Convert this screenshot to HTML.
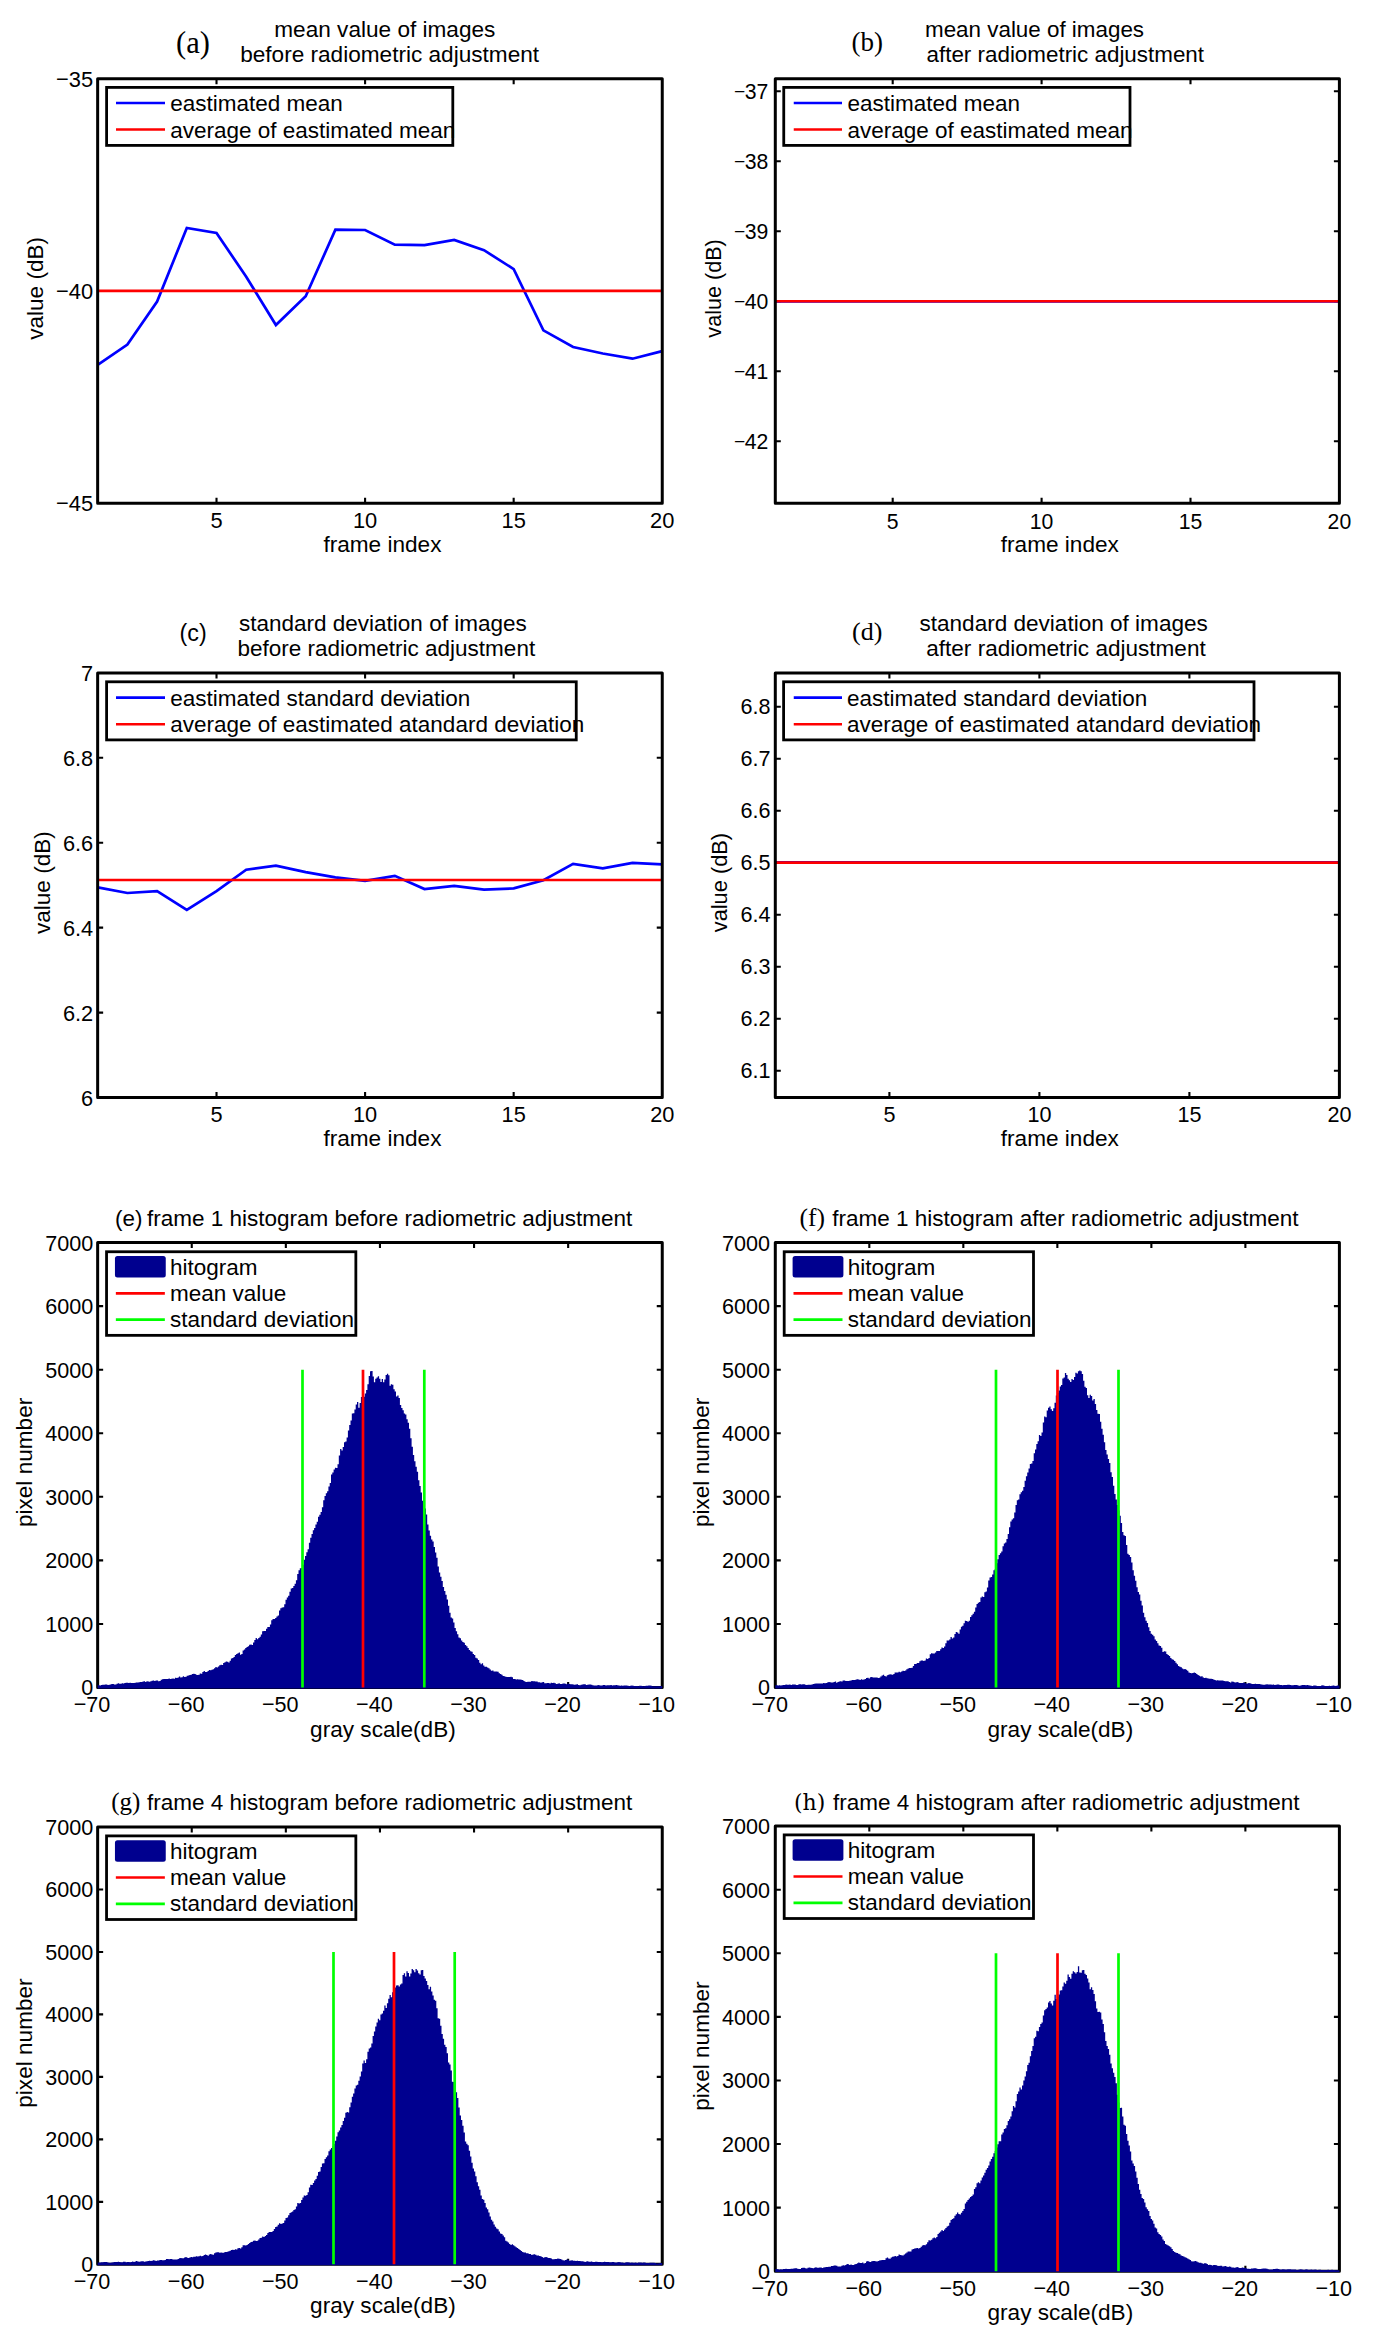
<!DOCTYPE html>
<html lang="en"><head><meta charset="utf-8"><title>Radiometric adjustment figure</title>
<style>
html,body{margin:0;padding:0;background:#fff}
svg{display:block}
svg text{font-family:"Liberation Sans", Arial, Helvetica, sans-serif;fill:#000}
</style></head>
<body>
<svg width="1380" height="2346" viewBox="0 0 1380 2346">
<rect width="1380" height="2346" fill="#fff"/>
<path d="M216.51 503.30v-5.5M216.51 78.65v5.5M365.09 503.30v-5.5M365.09 78.65v5.5M513.67 503.30v-5.5M513.67 78.65v5.5M97.65 290.98h5.5M662.25 290.98h-5.5" stroke="#000" stroke-width="2.1" fill="none"/>
<polyline points="97.7,364.8 127.4,344.6 157.1,301.5 186.8,228.0 216.5,233.0 246.2,276.7 275.9,325.0 305.7,296.3 335.4,229.6 365.1,230.0 394.8,244.6 424.5,245.2 454.2,240.0 484.0,250.2 513.7,269.1 543.4,330.4 573.1,347.0 602.8,353.5 632.5,358.7 662.2,351.1" fill="none" stroke="#00f" stroke-width="2.7" stroke-linejoin="miter"/>
<line x1="97.65" x2="662.25" y1="290.95" y2="290.95" stroke="#f00" stroke-width="2.7"/>
<rect x="97.65" y="78.65" width="564.60" height="424.65" fill="none" stroke="#000" stroke-width="3.0" stroke-linejoin="round"/>
<text x="216.51" y="528.00" text-anchor="middle" font-size="22.8" textLength="12.17" lengthAdjust="spacingAndGlyphs">5</text>
<text x="365.09" y="528.00" text-anchor="middle" font-size="22.8" textLength="24.35" lengthAdjust="spacingAndGlyphs">10</text>
<text x="513.67" y="528.00" text-anchor="middle" font-size="22.8" textLength="24.35" lengthAdjust="spacingAndGlyphs">15</text>
<text x="662.25" y="528.00" text-anchor="middle" font-size="22.8" textLength="24.35" lengthAdjust="spacingAndGlyphs">20</text>
<text x="93.15" y="86.68" text-anchor="end" font-size="22.8" textLength="37.13" lengthAdjust="spacingAndGlyphs">−35</text>
<text x="93.15" y="299.00" text-anchor="end" font-size="22.8" textLength="37.13" lengthAdjust="spacingAndGlyphs">−40</text>
<text x="93.15" y="511.33" text-anchor="end" font-size="22.8" textLength="37.13" lengthAdjust="spacingAndGlyphs">−45</text>
<text x="382.45" y="552.00" text-anchor="middle" font-size="22.6">frame index</text>
<text transform="translate(43.20 288.38) rotate(-90)" text-anchor="middle" font-size="22.6">value (dB)</text>
<text x="274.30" y="37.00" font-size="22.6">mean value of images</text>
<text x="240.20" y="62.00" font-size="22.6">before radiometric adjustment</text>
<text x="176.00" y="53.00" font-size="30.5" style='font-family:"Liberation Serif", "Times New Roman", serif'>(a)</text>
<rect x="106.60" y="87.40" width="346.20" height="58.00" fill="#fff" stroke="#000" stroke-width="2.8"/>
<line x1="116.00" x2="165.00" y1="103.00" y2="103.00" stroke="#00f" stroke-width="2.7"/>
<text x="170.20" y="110.70" font-size="22.5">eastimated mean</text>
<line x1="116.00" x2="165.00" y1="129.50" y2="129.50" stroke="#f00" stroke-width="2.7"/>
<text x="170.20" y="137.50" font-size="22.5">average of eastimated mean</text>
<path d="M892.70 503.30v-5.5M892.70 78.80v5.5M1041.60 503.30v-5.5M1041.60 78.80v5.5M1190.50 503.30v-5.5M1190.50 78.80v5.5M775.30 91.20h5.5M1339.40 91.20h-5.5M775.30 161.20h5.5M1339.40 161.20h-5.5M775.30 231.20h5.5M1339.40 231.20h-5.5M775.30 301.20h5.5M1339.40 301.20h-5.5M775.30 371.20h5.5M1339.40 371.20h-5.5M775.30 441.20h5.5M1339.40 441.20h-5.5" stroke="#000" stroke-width="2.1" fill="none"/>
<line x1="775.3" x2="1339.4" y1="301.55" y2="301.55" stroke="#00f" stroke-width="2.6"/>
<line x1="775.3" x2="1339.4" y1="301.2" y2="301.2" stroke="#f00" stroke-width="2.6"/>
<rect x="775.30" y="78.80" width="564.10" height="424.50" fill="none" stroke="#000" stroke-width="3.0" stroke-linejoin="round"/>
<text x="892.70" y="528.50" text-anchor="middle" font-size="21.2">5</text>
<text x="1041.60" y="528.50" text-anchor="middle" font-size="21.2">10</text>
<text x="1190.50" y="528.50" text-anchor="middle" font-size="21.2">15</text>
<text x="1339.40" y="528.50" text-anchor="middle" font-size="21.2">20</text>
<text x="768.40" y="98.66" text-anchor="end" font-size="21.2"><tspan font-size="19.3" dy="-0.6">−</tspan><tspan dx="-0.4" dy="0.6">37</tspan></text>
<text x="768.40" y="168.66" text-anchor="end" font-size="21.2"><tspan font-size="19.3" dy="-0.6">−</tspan><tspan dx="-0.4" dy="0.6">38</tspan></text>
<text x="768.40" y="238.66" text-anchor="end" font-size="21.2"><tspan font-size="19.3" dy="-0.6">−</tspan><tspan dx="-0.4" dy="0.6">39</tspan></text>
<text x="768.40" y="308.66" text-anchor="end" font-size="21.2"><tspan font-size="19.3" dy="-0.6">−</tspan><tspan dx="-0.4" dy="0.6">40</tspan></text>
<text x="768.40" y="378.66" text-anchor="end" font-size="21.2"><tspan font-size="19.3" dy="-0.6">−</tspan><tspan dx="-0.4" dy="0.6">41</tspan></text>
<text x="768.40" y="448.66" text-anchor="end" font-size="21.2"><tspan font-size="19.3" dy="-0.6">−</tspan><tspan dx="-0.4" dy="0.6">42</tspan></text>
<text x="1059.85" y="552.00" text-anchor="middle" font-size="22.6">frame index</text>
<text transform="translate(721.30 288.45) rotate(-90)" text-anchor="middle" font-size="21.6">value (dB)</text>
<text x="925.00" y="37.00" font-size="22.4">mean value of images</text>
<text x="926.50" y="62.00" font-size="22.4">after radiometric adjustment</text>
<text x="851.50" y="50.50" font-size="27" style='font-family:"Liberation Serif", "Times New Roman", serif'>(b)</text>
<rect x="783.75" y="87.40" width="346.25" height="58.00" fill="#fff" stroke="#000" stroke-width="2.8"/>
<line x1="793.75" x2="842.00" y1="103.00" y2="103.00" stroke="#00f" stroke-width="2.7"/>
<text x="847.40" y="110.70" font-size="22.5">eastimated mean</text>
<line x1="793.75" x2="842.00" y1="129.50" y2="129.50" stroke="#f00" stroke-width="2.7"/>
<text x="847.40" y="137.50" font-size="22.5">average of eastimated mean</text>
<path d="M216.51 1097.50v-5.5M216.51 672.90v5.5M365.09 1097.50v-5.5M365.09 672.90v5.5M513.67 1097.50v-5.5M513.67 672.90v5.5M97.65 757.82h5.5M662.25 757.82h-5.5M97.65 842.74h5.5M662.25 842.74h-5.5M97.65 927.66h5.5M662.25 927.66h-5.5M97.65 1012.58h5.5M662.25 1012.58h-5.5" stroke="#000" stroke-width="2.1" fill="none"/>
<polyline points="97.7,887.4 127.4,893.0 157.1,891.1 186.8,910.0 216.5,891.1 246.2,869.7 275.9,865.6 305.7,872.1 335.4,877.4 365.1,880.8 394.8,875.8 424.5,889.1 454.2,885.8 484.0,889.7 513.7,888.4 543.4,880.2 573.1,863.9 602.8,868.4 632.5,862.8 662.2,864.3" fill="none" stroke="#00f" stroke-width="2.7" stroke-linejoin="miter"/>
<line x1="97.65" x2="662.25" y1="880.0" y2="880.0" stroke="#f00" stroke-width="2.7"/>
<rect x="97.65" y="672.90" width="564.60" height="424.60" fill="none" stroke="#000" stroke-width="3.0" stroke-linejoin="round"/>
<text x="216.51" y="1122.00" text-anchor="middle" font-size="22.8" textLength="12.11" lengthAdjust="spacingAndGlyphs">5</text>
<text x="365.09" y="1122.00" text-anchor="middle" font-size="22.8" textLength="24.22" lengthAdjust="spacingAndGlyphs">10</text>
<text x="513.67" y="1122.00" text-anchor="middle" font-size="22.8" textLength="24.22" lengthAdjust="spacingAndGlyphs">15</text>
<text x="662.25" y="1122.00" text-anchor="middle" font-size="22.8" textLength="24.22" lengthAdjust="spacingAndGlyphs">20</text>
<text x="93.15" y="680.93" text-anchor="end" font-size="22.8" textLength="12.11" lengthAdjust="spacingAndGlyphs">7</text>
<text x="93.15" y="765.85" text-anchor="end" font-size="22.8" textLength="30.27" lengthAdjust="spacingAndGlyphs">6.8</text>
<text x="93.15" y="850.77" text-anchor="end" font-size="22.8" textLength="30.27" lengthAdjust="spacingAndGlyphs">6.6</text>
<text x="93.15" y="935.69" text-anchor="end" font-size="22.8" textLength="30.27" lengthAdjust="spacingAndGlyphs">6.4</text>
<text x="93.15" y="1020.61" text-anchor="end" font-size="22.8" textLength="30.27" lengthAdjust="spacingAndGlyphs">6.2</text>
<text x="93.15" y="1105.53" text-anchor="end" font-size="22.8" textLength="12.11" lengthAdjust="spacingAndGlyphs">6</text>
<text x="382.45" y="1145.50" text-anchor="middle" font-size="22.6">frame index</text>
<text transform="translate(49.90 882.60) rotate(-90)" text-anchor="middle" font-size="22.6">value (dB)</text>
<text x="239.00" y="631.25" font-size="22.5">standard deviation of images</text>
<text x="237.50" y="656.25" font-size="22.5">before radiometric adjustment</text>
<text x="179.50" y="640.50" font-size="23.3" style='font-family:"Liberation Sans", Arial, Helvetica, sans-serif'>(c)</text>
<rect x="106.60" y="681.80" width="469.65" height="58.10" fill="#fff" stroke="#000" stroke-width="2.8"/>
<line x1="116.00" x2="165.00" y1="697.60" y2="697.60" stroke="#00f" stroke-width="2.7"/>
<text x="170.20" y="705.50" font-size="22.5">eastimated standard deviation</text>
<line x1="116.00" x2="165.00" y1="724.25" y2="724.25" stroke="#f00" stroke-width="2.7"/>
<text x="170.20" y="732.00" font-size="22.5">average of eastimated atandard deviation</text>
<path d="M889.40 1097.50v-5.5M889.40 672.90v5.5M1039.40 1097.50v-5.5M1039.40 672.90v5.5M1189.40 1097.50v-5.5M1189.40 672.90v5.5M775.30 706.70h5.5M1339.40 706.70h-5.5M775.30 758.70h5.5M1339.40 758.70h-5.5M775.30 810.70h5.5M1339.40 810.70h-5.5M775.30 862.70h5.5M1339.40 862.70h-5.5M775.30 914.70h5.5M1339.40 914.70h-5.5M775.30 966.70h5.5M1339.40 966.70h-5.5M775.30 1018.70h5.5M1339.40 1018.70h-5.5M775.30 1070.70h5.5M1339.40 1070.70h-5.5" stroke="#000" stroke-width="2.1" fill="none"/>
<line x1="775.3" x2="1339.4" y1="862.3" y2="862.3" stroke="#00f" stroke-width="2.7"/>
<line x1="775.3" x2="1339.4" y1="862.65" y2="862.65" stroke="#f00" stroke-width="2.7"/>
<rect x="775.30" y="672.90" width="564.10" height="424.60" fill="none" stroke="#000" stroke-width="3.0" stroke-linejoin="round"/>
<text x="889.40" y="1122.40" text-anchor="middle" font-size="21.6">5</text>
<text x="1039.40" y="1122.40" text-anchor="middle" font-size="21.6">10</text>
<text x="1189.40" y="1122.40" text-anchor="middle" font-size="21.6">15</text>
<text x="1339.40" y="1122.40" text-anchor="middle" font-size="21.6">20</text>
<text x="770.60" y="714.30" text-anchor="end" font-size="21.6">6.8</text>
<text x="770.60" y="766.30" text-anchor="end" font-size="21.6">6.7</text>
<text x="770.60" y="818.30" text-anchor="end" font-size="21.6">6.6</text>
<text x="770.60" y="870.30" text-anchor="end" font-size="21.6">6.5</text>
<text x="770.60" y="922.30" text-anchor="end" font-size="21.6">6.4</text>
<text x="770.60" y="974.30" text-anchor="end" font-size="21.6">6.3</text>
<text x="770.60" y="1026.30" text-anchor="end" font-size="21.6">6.2</text>
<text x="770.60" y="1078.30" text-anchor="end" font-size="21.6">6.1</text>
<text x="1059.85" y="1145.50" text-anchor="middle" font-size="22.6">frame index</text>
<text transform="translate(727.30 882.60) rotate(-90)" text-anchor="middle" font-size="21.8">value (dB)</text>
<text x="919.50" y="631.25" font-size="22.55">standard deviation of images</text>
<text x="926.25" y="656.25" font-size="22.55">after radiometric adjustment</text>
<text x="852.00" y="640.00" font-size="26" style='font-family:"Liberation Serif", "Times New Roman", serif'>(d)</text>
<rect x="783.60" y="681.80" width="470.40" height="58.10" fill="#fff" stroke="#000" stroke-width="2.8"/>
<line x1="793.75" x2="842.00" y1="697.60" y2="697.60" stroke="#00f" stroke-width="2.7"/>
<text x="847.00" y="705.50" font-size="22.5">eastimated standard deviation</text>
<line x1="793.75" x2="842.00" y1="724.25" y2="724.25" stroke="#f00" stroke-width="2.7"/>
<text x="847.00" y="732.00" font-size="22.5">average of eastimated atandard deviation</text>
<path d="M191.75 1687.50v-5.5M191.75 1242.55v5.5M285.85 1687.50v-5.5M285.85 1242.55v5.5M379.95 1687.50v-5.5M379.95 1242.55v5.5M474.05 1687.50v-5.5M474.05 1242.55v5.5M568.15 1687.50v-5.5M568.15 1242.55v5.5M97.65 1306.11h5.5M662.25 1306.11h-5.5M97.65 1369.68h5.5M662.25 1369.68h-5.5M97.65 1433.24h5.5M662.25 1433.24h-5.5M97.65 1496.81h5.5M662.25 1496.81h-5.5M97.65 1560.37h5.5M662.25 1560.37h-5.5M97.65 1623.94h5.5M662.25 1623.94h-5.5" stroke="#000" stroke-width="2.1" fill="none"/>
<rect x="97.65" y="1242.55" width="564.60" height="444.95" fill="none" stroke="#000" stroke-width="3.0" stroke-linejoin="round"/>
<path d="M97.7 1688.4L97.7 1684.8H98.3L98.3 1685.2H99.6L99.6 1685.4H100.9L100.9 1685.0H102.2L102.2 1684.8H103.5L103.5 1684.8H104.8L104.8 1684.5H106.1L106.1 1684.5H107.4L107.4 1684.9H108.7L108.7 1684.8H110.0L110.0 1684.5H111.3L111.3 1684.1H112.6L112.6 1684.1H113.9L113.9 1684.6H115.2L115.2 1684.5H116.5L116.5 1683.7H117.8L117.8 1683.3H119.1L119.1 1683.7H120.4L120.4 1683.8H121.7L121.7 1683.3H123.0L123.0 1683.4H124.3L124.3 1683.0H125.6L125.6 1682.7H126.9L126.9 1682.7H128.2L128.2 1682.9H129.5L129.5 1682.7H130.8L130.8 1683.0H132.1L132.1 1682.9H133.4L133.4 1682.9H134.7L134.7 1682.7H136.0L136.0 1682.6H137.3L137.3 1682.5H138.6L138.6 1682.3H139.9L139.9 1682.1H141.2L141.2 1681.9H142.5L142.5 1681.5H143.8L143.8 1681.3H145.1L145.1 1681.9H146.4L146.4 1681.2H147.7L147.7 1681.5H149.0L149.0 1681.8H150.3L150.3 1681.3H151.6L151.6 1680.8H152.9L152.9 1680.5H154.2L154.2 1681.0H155.5L155.5 1680.6H156.8L156.8 1680.6H158.1L158.1 1681.2H159.4L159.4 1680.9H160.7L160.7 1679.8H162.0L162.0 1679.3H163.3L163.3 1679.0H164.6L164.6 1679.0H165.9L165.9 1679.1H167.2L167.2 1678.9H168.5L168.5 1678.5H169.8L169.8 1679.1H171.1L171.1 1678.8H172.4L172.4 1678.6H173.7L173.7 1678.8H175.0L175.0 1677.8H176.3L176.3 1678.1H177.6L177.6 1677.5H178.9L178.9 1676.6H180.2L180.2 1677.5H181.5L181.5 1677.2H182.8L182.8 1676.3H184.1L184.1 1677.0H185.4L185.4 1676.7H186.7L186.7 1675.8H188.0L188.0 1675.4H189.3L189.3 1675.1H190.6L190.6 1674.8H191.9L191.9 1674.1H193.2L193.2 1673.8H194.5L194.5 1674.1H195.8L195.8 1674.7H197.1L197.1 1674.9H198.4L198.4 1674.8H199.7L199.7 1673.6H201.0L201.0 1673.7H202.3L202.3 1671.9H203.6L203.6 1670.9H204.9L204.9 1672.1H206.2L206.2 1672.0H207.5L207.5 1671.0H208.8L208.8 1670.0H210.1L210.1 1670.2H211.4L211.4 1669.7H212.7L212.7 1669.2H214.0L214.0 1668.2H215.3L215.3 1666.9H216.6L216.6 1667.4H217.9L217.9 1666.5H219.2L219.2 1665.3H220.5L220.5 1664.7H221.8L221.8 1665.0H223.1L223.1 1663.1H224.4L224.4 1662.2H225.7L225.7 1661.5H227.0L227.0 1661.8H228.3L228.3 1662.5H229.6L229.6 1660.8H230.9L230.9 1658.6H232.2L232.2 1658.0H233.5L233.5 1656.9H234.8L234.8 1654.9H236.1L236.1 1653.9H237.4L237.4 1653.3H238.7L238.7 1652.4H240.0L240.0 1654.8H241.3L241.3 1653.9H242.6L242.6 1650.6H243.9L243.9 1649.5H245.2L245.2 1647.9H246.5L246.5 1646.9H247.8L247.8 1646.3H249.1L249.1 1644.7H250.4L250.4 1644.6H251.7L251.7 1645.0H253.0L253.0 1642.5H254.3L254.3 1640.1H255.6L255.6 1638.1H256.9L256.9 1639.3H258.2L258.2 1638.0H259.5L259.5 1636.7H260.8L260.8 1634.5H262.1L262.1 1631.3H263.4L263.4 1631.1H264.7L264.7 1631.0H266.0L266.0 1628.8H267.3L267.3 1626.9H268.6L268.6 1627.1H269.9L269.9 1624.4H271.2L271.2 1620.3H272.5L272.5 1619.0H273.8L273.8 1619.0H275.1L275.1 1618.0H276.4L276.4 1616.5H277.7L277.7 1615.4H279.0L279.0 1610.6H280.3L280.3 1608.3H281.6L281.6 1607.5H282.9L282.9 1607.3H284.2L284.2 1604.3H285.5L285.5 1599.8H286.8L286.8 1597.5H288.1L288.1 1595.8H289.4L289.4 1591.7H290.7L290.7 1588.5H292.0L292.0 1588.1H293.3L293.3 1586.0H294.6L294.6 1583.7H295.9L295.9 1580.3H297.2L297.2 1573.9H298.5L298.5 1570.2H299.8L299.8 1568.3H301.1L301.1 1568.0H302.4L302.4 1564.8H303.7L303.7 1559.7H305.0L305.0 1556.1H306.3L306.3 1552.3H307.6L307.6 1549.3H308.9L308.9 1542.7H310.2L310.2 1537.7H311.5L311.5 1534.0H312.8L312.8 1530.2H314.1L314.1 1528.1H315.4L315.4 1524.4H316.7L316.7 1521.8H318.0L318.0 1516.8H319.3L319.3 1514.8H320.6L320.6 1512.0H321.9L321.9 1507.2H323.2L323.2 1500.2H324.5L324.5 1495.9H325.8L325.8 1493.2H327.1L327.1 1491.3H328.4L328.4 1486.4H329.7L329.7 1483.1H331.0L331.0 1474.6H332.3L332.3 1472.4H333.6L333.6 1469.5H334.9L334.9 1467.7H336.2L336.2 1468.1H337.5L337.5 1464.2H338.8L338.8 1455.6H340.1L340.1 1448.9H341.4L341.4 1450.4H342.7L342.7 1447.0H344.0L344.0 1442.2H345.3L345.3 1441.6H346.6L346.6 1437.6H347.9L347.9 1430.6H349.2L349.2 1425.0H350.5L350.5 1420.4H351.8L351.8 1413.6H353.1L353.1 1413.3H354.4L354.4 1409.5H355.7L355.7 1404.5H357.0L357.0 1402.0H358.3L358.3 1407.7H359.6L359.6 1403.1H360.9L360.9 1396.9H362.2L362.2 1399.2H363.5L363.5 1396.8H364.8L364.8 1393.6H366.1L366.1 1390.1H367.4L367.4 1384.3H368.7L368.7 1376.0H370.0L370.0 1371.2H371.3L371.3 1371.0H372.6L372.6 1376.4H373.9L373.9 1382.2H375.2L375.2 1378.8H376.5L376.5 1377.4H377.8L377.8 1376.3H379.1L379.1 1378.8H380.4L380.4 1382.0H381.7L381.7 1378.9H383.0L383.0 1382.3H384.3L384.3 1379.4H385.6L385.6 1375.0H386.9L386.9 1373.7H388.2L388.2 1375.3H389.5L389.5 1385.7H390.8L390.8 1384.3H392.1L392.1 1384.8H393.4L393.4 1389.3H394.7L394.7 1391.5H396.0L396.0 1396.5H397.3L397.3 1395.4H398.6L398.6 1398.1H399.9L399.9 1405.1H401.2L401.2 1408.1H402.5L402.5 1410.2H403.8L403.8 1413.4H405.1L405.1 1414.4H406.4L406.4 1419.3H407.7L407.7 1422.8H409.0L409.0 1428.8H410.3L410.3 1438.2H411.6L411.6 1446.7H412.9L412.9 1454.9H414.2L414.2 1461.2H415.5L415.5 1466.7H416.8L416.8 1471.7H418.1L418.1 1480.2H419.4L419.4 1485.9H420.7L420.7 1492.5H422.0L422.0 1500.7H423.3L423.3 1505.8H424.6L424.6 1508.5H425.9L425.9 1514.4H427.2L427.2 1524.5H428.5L428.5 1530.5H429.8L429.8 1535.7H431.1L431.1 1539.6H432.4L432.4 1541.6H433.7L433.7 1547.1H435.0L435.0 1552.4H436.3L436.3 1557.8H437.6L437.6 1566.4H438.9L438.9 1572.6H440.2L440.2 1576.8H441.5L441.5 1580.9H442.8L442.8 1587.1H444.1L444.1 1591.1H445.4L445.4 1594.8H446.7L446.7 1599.4H448.0L448.0 1605.7H449.3L449.3 1612.8H450.6L450.6 1617.5H451.9L451.9 1618.4H453.2L453.2 1622.6H454.5L454.5 1628.1H455.8L455.8 1631.2H457.1L457.1 1634.3H458.4L458.4 1637.5H459.7L459.7 1638.2H461.0L461.0 1640.6H462.3L462.3 1642.0H463.6L463.6 1642.7H464.9L464.9 1644.9H466.2L466.2 1646.2H467.5L467.5 1648.0H468.8L468.8 1650.1H470.1L470.1 1651.2H471.4L471.4 1651.7H472.7L472.7 1653.9H474.0L474.0 1655.0H475.3L475.3 1657.8H476.6L476.6 1658.5H477.9L477.9 1660.0H479.2L479.2 1662.7H480.5L480.5 1664.3H481.8L481.8 1663.3H483.1L483.1 1665.4H484.4L484.4 1666.7H485.7L485.7 1666.7H487.0L487.0 1667.4H488.3L488.3 1668.2H489.6L489.6 1669.6H490.9L490.9 1670.8H492.2L492.2 1670.4H493.5L493.5 1671.5H494.8L494.8 1671.6H496.1L496.1 1671.5H497.4L497.4 1671.8H498.7L498.7 1673.2H500.0L500.0 1674.0H501.3L501.3 1674.8H502.6L502.6 1676.1H503.9L503.9 1676.3H505.2L505.2 1676.7H506.5L506.5 1677.1H507.8L507.8 1676.9H509.1L509.1 1677.0H510.4L510.4 1676.7H511.7L511.7 1677.2H513.0L513.0 1679.1H514.3L514.3 1679.1H515.6L515.6 1679.5H516.9L516.9 1679.2H518.2L518.2 1679.4H519.5L519.5 1679.4H520.8L520.8 1679.8H522.1L522.1 1680.0H523.4L523.4 1681.0H524.7L524.7 1681.7H526.0L526.0 1681.9H527.3L527.3 1681.7H528.6L528.6 1681.7H529.9L529.9 1681.7H531.2L531.2 1681.0H532.5L532.5 1681.3H533.8L533.8 1681.3H535.1L535.1 1681.6H536.4L536.4 1681.5H537.7L537.7 1682.3H539.0L539.0 1682.3H540.3L540.3 1682.7H541.6L541.6 1682.2H542.9L542.9 1682.1H544.2L544.2 1683.2H545.5L545.5 1683.2H546.8L546.8 1682.9H548.1L548.1 1683.1H549.4L549.4 1683.4H550.7L550.7 1682.8H552.0L552.0 1682.9H553.3L553.3 1682.8H554.6L554.6 1683.2H555.9L555.9 1683.9H557.2L557.2 1683.7H558.5L558.5 1683.3H559.8L559.8 1684.1H561.1L561.1 1684.0H562.4L562.4 1683.6H563.7L563.7 1683.4H565.0L565.0 1683.7H566.3L566.3 1684.2H567.6L567.6 1683.6H568.9L568.9 1684.0H570.2L570.2 1684.2H571.5L571.5 1684.3H572.8L572.8 1684.5H574.1L574.1 1684.7H575.4L575.4 1684.5H576.7L576.7 1684.3H578.0L578.0 1685.1H579.3L579.3 1685.2H580.6L580.6 1684.7H581.9L581.9 1684.5H583.2L583.2 1684.3H584.5L584.5 1684.3H585.8L585.8 1684.9H587.1L587.1 1684.8H588.4L588.4 1684.6H589.7L589.7 1684.5H591.0L591.0 1684.7H592.3L592.3 1685.3H593.6L593.6 1685.5H594.9L594.9 1685.4H596.2L596.2 1685.5H597.5L597.5 1685.0H598.8L598.8 1685.2H600.1L600.1 1685.4H601.4L601.4 1685.4H602.7L602.7 1684.9H604.0L604.0 1685.1H605.3L605.3 1685.4H606.6L606.6 1685.2H607.9L607.9 1685.3H609.2L609.2 1685.2H610.5L610.5 1685.1H611.8L611.8 1685.4H613.1L613.1 1685.3H614.4L614.4 1685.2H615.7L615.7 1685.1H617.0L617.0 1685.3H618.3L618.3 1685.5H619.6L619.6 1685.7H620.9L620.9 1685.6H622.2L622.2 1685.7H623.5L623.5 1685.5H624.8L624.8 1685.5H626.1L626.1 1685.5H627.4L627.4 1685.8H628.7L628.7 1685.9H630.0L630.0 1685.8H631.3L631.3 1685.5H632.6L632.6 1685.7H633.9L633.9 1685.9H635.2L635.2 1686.1H636.5L636.5 1686.1H637.8L637.8 1686.2H639.1L639.1 1685.7H640.4L640.4 1685.7H641.7L641.7 1685.9H643.0L643.0 1686.2H644.3L644.3 1686.1H645.6L645.6 1685.7H646.9L646.9 1685.8H648.2L648.2 1685.6H649.5L649.5 1685.4H650.8L650.8 1685.7H652.1L652.1 1686.3H653.4L653.4 1686.3H654.7L654.7 1686.2H656.0L656.0 1686.3H657.3L657.3 1686.3H658.6L658.6 1686.3H659.9L659.9 1686.2H661.2L661.2 1686.0H662.2L662.2 1688.4Z" fill="#00008f"/>
<line x1="302.5" x2="302.5" y1="1369.68" y2="1687.50" stroke="#0f0" stroke-width="2.7"/>
<line x1="424.3" x2="424.3" y1="1369.68" y2="1687.50" stroke="#0f0" stroke-width="2.7"/>
<line x1="363" x2="363" y1="1369.68" y2="1687.50" stroke="#f00" stroke-width="2.7"/>
<text x="92.05" y="1712.30" text-anchor="middle" font-size="22.6" textLength="36.61" lengthAdjust="spacingAndGlyphs">−70</text>
<text x="186.15" y="1712.30" text-anchor="middle" font-size="22.6" textLength="36.61" lengthAdjust="spacingAndGlyphs">−60</text>
<text x="280.25" y="1712.30" text-anchor="middle" font-size="22.6" textLength="36.61" lengthAdjust="spacingAndGlyphs">−50</text>
<text x="374.35" y="1712.30" text-anchor="middle" font-size="22.6" textLength="36.61" lengthAdjust="spacingAndGlyphs">−40</text>
<text x="468.45" y="1712.30" text-anchor="middle" font-size="22.6" textLength="36.61" lengthAdjust="spacingAndGlyphs">−30</text>
<text x="562.55" y="1712.30" text-anchor="middle" font-size="22.6" textLength="36.61" lengthAdjust="spacingAndGlyphs">−20</text>
<text x="656.65" y="1712.30" text-anchor="middle" font-size="22.6" textLength="36.61" lengthAdjust="spacingAndGlyphs">−10</text>
<text x="93.15" y="1695.46" text-anchor="end" font-size="22.6" textLength="12.00" lengthAdjust="spacingAndGlyphs">0</text>
<text x="93.15" y="1631.89" text-anchor="end" font-size="22.6" textLength="48.02" lengthAdjust="spacingAndGlyphs">1000</text>
<text x="93.15" y="1568.33" text-anchor="end" font-size="22.6" textLength="48.02" lengthAdjust="spacingAndGlyphs">2000</text>
<text x="93.15" y="1504.76" text-anchor="end" font-size="22.6" textLength="48.02" lengthAdjust="spacingAndGlyphs">3000</text>
<text x="93.15" y="1441.20" text-anchor="end" font-size="22.6" textLength="48.02" lengthAdjust="spacingAndGlyphs">4000</text>
<text x="93.15" y="1377.63" text-anchor="end" font-size="22.6" textLength="48.02" lengthAdjust="spacingAndGlyphs">5000</text>
<text x="93.15" y="1314.07" text-anchor="end" font-size="22.6" textLength="48.02" lengthAdjust="spacingAndGlyphs">6000</text>
<text x="93.15" y="1250.51" text-anchor="end" font-size="22.6" textLength="48.02" lengthAdjust="spacingAndGlyphs">7000</text>
<text x="382.95" y="1736.50" text-anchor="middle" font-size="22.6">gray scale(dB)</text>
<text transform="translate(32.00 1462.43) rotate(-90)" text-anchor="middle" font-size="22.6">pixel number</text>
<text x="147.00" y="1225.50" font-size="22.5">frame 1 histogram before radiometric adjustment</text>
<text x="115.00" y="1225.50" font-size="22.4" style='font-family:"Liberation Sans", Arial, Helvetica, sans-serif'>(e)</text>
<rect x="106.55" y="1251.75" width="249.30" height="83.60" fill="#fff" stroke="#000" stroke-width="2.8"/>
<rect x="114.95" y="1256.05" width="50.80" height="21.50" rx="2.5" fill="#00008f"/>
<text x="170.05" y="1274.65" font-size="22.5">hitogram</text>
<line x1="115.85" x2="164.85" y1="1293.35" y2="1293.35" stroke="#f00" stroke-width="2.7"/>
<text x="170.05" y="1300.85" font-size="22.5">mean value</text>
<line x1="115.85" x2="164.85" y1="1319.65" y2="1319.65" stroke="#0f0" stroke-width="2.7"/>
<text x="170.05" y="1326.75" font-size="22.5">standard deviation</text>
<path d="M191.75 2264.30v-5.5M191.75 1827.00v5.5M285.85 2264.30v-5.5M285.85 1827.00v5.5M379.95 2264.30v-5.5M379.95 1827.00v5.5M474.05 2264.30v-5.5M474.05 1827.00v5.5M568.15 2264.30v-5.5M568.15 1827.00v5.5M97.65 1889.47h5.5M662.25 1889.47h-5.5M97.65 1951.94h5.5M662.25 1951.94h-5.5M97.65 2014.41h5.5M662.25 2014.41h-5.5M97.65 2076.89h5.5M662.25 2076.89h-5.5M97.65 2139.36h5.5M662.25 2139.36h-5.5M97.65 2201.83h5.5M662.25 2201.83h-5.5" stroke="#000" stroke-width="2.1" fill="none"/>
<rect x="97.65" y="1827.00" width="564.60" height="437.30" fill="none" stroke="#000" stroke-width="3.0" stroke-linejoin="round"/>
<path d="M97.7 2265.2L97.7 2262.5H98.3L98.3 2262.5H99.6L99.6 2262.4H100.9L100.9 2262.2H102.2L102.2 2262.2H103.5L103.5 2262.1H104.8L104.8 2262.1H106.1L106.1 2262.1H107.4L107.4 2262.6H108.7L108.7 2262.8H110.0L110.0 2262.7H111.3L111.3 2262.4H112.6L112.6 2262.3H113.9L113.9 2262.1H115.2L115.2 2262.1H116.5L116.5 2262.0H117.8L117.8 2261.8H119.1L119.1 2261.9H120.4L120.4 2262.2H121.7L121.7 2262.3H123.0L123.0 2261.8H124.3L124.3 2261.8H125.6L125.6 2262.2H126.9L126.9 2262.0H128.2L128.2 2262.0H129.5L129.5 2262.3H130.8L130.8 2261.9H132.1L132.1 2261.5H133.4L133.4 2262.0H134.7L134.7 2261.5H136.0L136.0 2261.1H137.3L137.3 2261.6H138.6L138.6 2261.7H139.9L139.9 2261.4H141.2L141.2 2261.2H142.5L142.5 2261.3H143.8L143.8 2261.7H145.1L145.1 2261.5H146.4L146.4 2261.2H147.7L147.7 2261.0H149.0L149.0 2260.7H150.3L150.3 2260.9H151.6L151.6 2260.8H152.9L152.9 2260.2H154.2L154.2 2260.6H155.5L155.5 2260.9H156.8L156.8 2260.6H158.1L158.1 2260.4H159.4L159.4 2260.0H160.7L160.7 2260.0H162.0L162.0 2260.2H163.3L163.3 2260.2H164.6L164.6 2259.9H165.9L165.9 2259.1H167.2L167.2 2259.0H168.5L168.5 2259.2H169.8L169.8 2259.1H171.1L171.1 2259.1H172.4L172.4 2259.4H173.7L173.7 2259.4H175.0L175.0 2259.4H176.3L176.3 2259.6H177.6L177.6 2259.1H178.9L178.9 2258.3H180.2L180.2 2257.9H181.5L181.5 2258.2H182.8L182.8 2258.2H184.1L184.1 2257.4H185.4L185.4 2257.0H186.7L186.7 2257.8H188.0L188.0 2258.0H189.3L189.3 2257.5H190.6L190.6 2257.1H191.9L191.9 2257.2H193.2L193.2 2256.8H194.5L194.5 2256.8H195.8L195.8 2256.3H197.1L197.1 2256.4H198.4L198.4 2256.2H199.7L199.7 2255.7H201.0L201.0 2256.3H202.3L202.3 2255.9H203.6L203.6 2254.9H204.9L204.9 2254.5H206.2L206.2 2255.0H207.5L207.5 2255.7H208.8L208.8 2254.4H210.1L210.1 2254.0H211.4L211.4 2254.5H212.7L212.7 2254.8H214.0L214.0 2253.2H215.3L215.3 2252.4H216.6L216.6 2252.3H217.9L217.9 2252.2H219.2L219.2 2252.7H220.5L220.5 2252.5H221.8L221.8 2252.7H223.1L223.1 2252.7H224.4L224.4 2252.1H225.7L225.7 2252.0H227.0L227.0 2251.7H228.3L228.3 2251.3H229.6L229.6 2250.7H230.9L230.9 2250.1H232.2L232.2 2249.8H233.5L233.5 2249.9H234.8L234.8 2249.2H236.1L236.1 2249.5H237.4L237.4 2248.3H238.7L238.7 2248.0H240.0L240.0 2248.6H241.3L241.3 2247.2H242.6L242.6 2245.3H243.9L243.9 2245.2H245.2L245.2 2245.5H246.5L246.5 2245.1H247.8L247.8 2243.9H249.1L249.1 2243.1H250.4L250.4 2242.1H251.7L251.7 2241.7H253.0L253.0 2240.7H254.3L254.3 2240.6H255.6L255.6 2241.1H256.9L256.9 2240.8H258.2L258.2 2239.4H259.5L259.5 2238.1H260.8L260.8 2237.7H262.1L262.1 2236.4H263.4L263.4 2236.9H264.7L264.7 2235.9H266.0L266.0 2234.9H267.3L267.3 2233.1H268.6L268.6 2232.1H269.9L269.9 2231.9H271.2L271.2 2232.0H272.5L272.5 2231.0H273.8L273.8 2229.1H275.1L275.1 2226.9H276.4L276.4 2226.6H277.7L277.7 2224.7H279.0L279.0 2223.3H280.3L280.3 2223.9H281.6L281.6 2223.6H282.9L282.9 2223.1H284.2L284.2 2220.5H285.5L285.5 2217.9H286.8L286.8 2217.6H288.1L288.1 2215.2H289.4L289.4 2212.9H290.7L290.7 2212.2H292.0L292.0 2211.6H293.3L293.3 2210.0H294.6L294.6 2209.3H295.9L295.9 2206.6H297.2L297.2 2202.9H298.5L298.5 2203.4H299.8L299.8 2202.9H301.1L301.1 2200.0H302.4L302.4 2197.4H303.7L303.7 2195.6H305.0L305.0 2195.7H306.3L306.3 2194.9H307.6L307.6 2192.2H308.9L308.9 2187.4H310.2L310.2 2184.8H311.5L311.5 2185.1H312.8L312.8 2183.1H314.1L314.1 2180.4H315.4L315.4 2179.1H316.7L316.7 2175.7H318.0L318.0 2171.9H319.3L319.3 2171.4H320.6L320.6 2167.0H321.9L321.9 2163.5H323.2L323.2 2163.3H324.5L324.5 2158.9H325.8L325.8 2157.3H327.1L327.1 2155.6H328.4L328.4 2151.2H329.7L329.7 2149.4H331.0L331.0 2148.0H332.3L332.3 2146.3H333.6L333.6 2144.1H334.9L334.9 2140.8H336.2L336.2 2136.6H337.5L337.5 2132.2H338.8L338.8 2130.4H340.1L340.1 2127.5H341.4L341.4 2125.1H342.7L342.7 2121.1H344.0L344.0 2117.7H345.3L345.3 2112.8H346.6L346.6 2112.1H347.9L347.9 2112.5H349.2L349.2 2107.3H350.5L350.5 2102.5H351.8L351.8 2096.7H353.1L353.1 2093.5H354.4L354.4 2088.6H355.7L355.7 2085.5H357.0L357.0 2084.7H358.3L358.3 2080.8H359.6L359.6 2076.6H360.9L360.9 2071.6H362.2L362.2 2063.6H363.5L363.5 2060.5H364.8L364.8 2063.0H366.1L366.1 2059.3H367.4L367.4 2051.7H368.7L368.7 2048.5H370.0L370.0 2047.6H371.3L371.3 2043.6H372.6L372.6 2036.1H373.9L373.9 2031.4H375.2L375.2 2026.4H376.5L376.5 2022.4H377.8L377.8 2018.7H379.1L379.1 2020.2H380.4L380.4 2014.4H381.7L381.7 2013.4H383.0L383.0 2010.7H384.3L384.3 2005.6H385.6L385.6 2007.9H386.9L386.9 2003.3H388.2L388.2 1998.8H389.5L389.5 1994.9H390.8L390.8 1997.2H392.1L392.1 1992.2H393.4L393.4 1988.5H394.7L394.7 1987.5H396.0L396.0 1985.6H397.3L397.3 1985.3H398.6L398.6 1986.5H399.9L399.9 1984.5H401.2L401.2 1983.4H402.5L402.5 1975.0H403.8L403.8 1973.3H405.1L405.1 1976.5H406.4L406.4 1971.2H407.7L407.7 1973.0H409.0L409.0 1976.5H410.3L410.3 1973.4H411.6L411.6 1968.9H412.9L412.9 1970.3H414.2L414.2 1972.2H415.5L415.5 1968.9H416.8L416.8 1970.4H418.1L418.1 1973.2H419.4L419.4 1974.4H420.7L420.7 1970.2H422.0L422.0 1969.9H423.3L423.3 1975.9H424.6L424.6 1978.4H425.9L425.9 1981.1H427.2L427.2 1985.1H428.5L428.5 1989.3H429.8L429.8 1986.8H431.1L431.1 1991.4H432.4L432.4 1995.6H433.7L433.7 1999.8H435.0L435.0 2000.7H436.3L436.3 2008.3H437.6L437.6 2018.3H438.9L438.9 2018.8H440.2L440.2 2025.7H441.5L441.5 2034.1H442.8L442.8 2038.8H444.1L444.1 2044.7H445.4L445.4 2047.1H446.7L446.7 2053.3H448.0L448.0 2062.4H449.3L449.3 2064.5H450.6L450.6 2070.6H451.9L451.9 2081.7H453.2L453.2 2081.9H454.5L454.5 2086.5H455.8L455.8 2092.2H457.1L457.1 2098.0H458.4L458.4 2107.5H459.7L459.7 2115.6H461.0L461.0 2119.9H462.3L462.3 2125.8H463.6L463.6 2132.5H464.9L464.9 2141.6H466.2L466.2 2143.7H467.5L467.5 2145.3H468.8L468.8 2150.8H470.1L470.1 2156.5H471.4L471.4 2162.7H472.7L472.7 2168.4H474.0L474.0 2171.6H475.3L475.3 2176.2H476.6L476.6 2182.3H477.9L477.9 2186.3H479.2L479.2 2189.7H480.5L480.5 2195.4H481.8L481.8 2198.9H483.1L483.1 2199.8H484.4L484.4 2203.0H485.7L485.7 2207.4H487.0L487.0 2209.3H488.3L488.3 2212.5H489.6L489.6 2216.4H490.9L490.9 2219.7H492.2L492.2 2221.5H493.5L493.5 2224.5H494.8L494.8 2226.8H496.1L496.1 2228.6H497.4L497.4 2229.2H498.7L498.7 2231.6H500.0L500.0 2233.5H501.3L501.3 2234.0H502.6L502.6 2235.5H503.9L503.9 2237.2H505.2L505.2 2240.8H506.5L506.5 2241.5H507.8L507.8 2242.4H509.1L509.1 2244.1H510.4L510.4 2245.0H511.7L511.7 2244.3H513.0L513.0 2245.2H514.3L514.3 2246.3H515.6L515.6 2247.3H516.9L516.9 2248.0H518.2L518.2 2248.9H519.5L519.5 2249.9H520.8L520.8 2251.0H522.1L522.1 2252.0H523.4L523.4 2252.4H524.7L524.7 2252.6H526.0L526.0 2253.2H527.3L527.3 2253.3H528.6L528.6 2253.9H529.9L529.9 2254.0H531.2L531.2 2254.9H532.5L532.5 2254.6H533.8L533.8 2254.2H535.1L535.1 2254.8H536.4L536.4 2255.6H537.7L537.7 2255.4H539.0L539.0 2256.0H540.3L540.3 2256.3H541.6L541.6 2257.0H542.9L542.9 2257.7H544.2L544.2 2257.2H545.5L545.5 2257.1H546.8L546.8 2257.4H548.1L548.1 2258.1H549.4L549.4 2258.0H550.7L550.7 2258.6H552.0L552.0 2259.2H553.3L553.3 2259.2H554.6L554.6 2258.9H555.9L555.9 2258.9H557.2L557.2 2258.5H558.5L558.5 2258.7H559.8L559.8 2258.9H561.1L561.1 2259.6H562.4L562.4 2260.3H563.7L563.7 2260.6H565.0L565.0 2260.1H566.3L566.3 2259.5H567.6L567.6 2259.8H568.9L568.9 2260.7H570.2L570.2 2260.4H571.5L571.5 2260.3H572.8L572.8 2260.8H574.1L574.1 2260.8H575.4L575.4 2260.9H576.7L576.7 2260.8H578.0L578.0 2260.9H579.3L579.3 2261.1H580.6L580.6 2261.2H581.9L581.9 2261.3H583.2L583.2 2261.5H584.5L584.5 2261.9H585.8L585.8 2261.4H587.1L587.1 2261.2H588.4L588.4 2261.8H589.7L589.7 2261.7H591.0L591.0 2261.5H592.3L592.3 2261.9H593.6L593.6 2262.0H594.9L594.9 2261.8H596.2L596.2 2261.7H597.5L597.5 2262.1H598.8L598.8 2261.9H600.1L600.1 2261.9H601.4L601.4 2262.3H602.7L602.7 2262.0H604.0L604.0 2261.7H605.3L605.3 2262.0H606.6L606.6 2262.1H607.9L607.9 2261.9H609.2L609.2 2262.2H610.5L610.5 2262.2H611.8L611.8 2261.9H613.1L613.1 2261.9H614.4L614.4 2262.5H615.7L615.7 2262.4H617.0L617.0 2262.2H618.3L618.3 2262.0H619.6L619.6 2262.3H620.9L620.9 2262.5H622.2L622.2 2262.5H623.5L623.5 2263.0H624.8L624.8 2262.6H626.1L626.1 2262.3H627.4L627.4 2262.2H628.7L628.7 2262.5H630.0L630.0 2262.8H631.3L631.3 2262.6H632.6L632.6 2262.8H633.9L633.9 2262.7H635.2L635.2 2262.6H636.5L636.5 2262.9H637.8L637.8 2262.4H639.1L639.1 2262.4H640.4L640.4 2262.5H641.7L641.7 2262.7H643.0L643.0 2262.6H644.3L644.3 2262.6H645.6L645.6 2262.9H646.9L646.9 2263.1H648.2L648.2 2262.9H649.5L649.5 2262.7H650.8L650.8 2262.7H652.1L652.1 2262.8H653.4L653.4 2262.8H654.7L654.7 2263.0H656.0L656.0 2263.4H657.3L657.3 2263.4H658.6L658.6 2263.2H659.9L659.9 2263.1H661.2L661.2 2263.0H662.2L662.2 2265.2Z" fill="#00008f"/>
<line x1="333.5" x2="333.5" y1="1951.94" y2="2264.30" stroke="#0f0" stroke-width="2.7"/>
<line x1="454.7" x2="454.7" y1="1951.94" y2="2264.30" stroke="#0f0" stroke-width="2.7"/>
<line x1="394" x2="394" y1="1951.94" y2="2264.30" stroke="#f00" stroke-width="2.7"/>
<text x="92.05" y="2289.10" text-anchor="middle" font-size="22.6" textLength="36.61" lengthAdjust="spacingAndGlyphs">−70</text>
<text x="186.15" y="2289.10" text-anchor="middle" font-size="22.6" textLength="36.61" lengthAdjust="spacingAndGlyphs">−60</text>
<text x="280.25" y="2289.10" text-anchor="middle" font-size="22.6" textLength="36.61" lengthAdjust="spacingAndGlyphs">−50</text>
<text x="374.35" y="2289.10" text-anchor="middle" font-size="22.6" textLength="36.61" lengthAdjust="spacingAndGlyphs">−40</text>
<text x="468.45" y="2289.10" text-anchor="middle" font-size="22.6" textLength="36.61" lengthAdjust="spacingAndGlyphs">−30</text>
<text x="562.55" y="2289.10" text-anchor="middle" font-size="22.6" textLength="36.61" lengthAdjust="spacingAndGlyphs">−20</text>
<text x="656.65" y="2289.10" text-anchor="middle" font-size="22.6" textLength="36.61" lengthAdjust="spacingAndGlyphs">−10</text>
<text x="93.15" y="2272.26" text-anchor="end" font-size="22.6" textLength="12.00" lengthAdjust="spacingAndGlyphs">0</text>
<text x="93.15" y="2209.78" text-anchor="end" font-size="22.6" textLength="48.02" lengthAdjust="spacingAndGlyphs">1000</text>
<text x="93.15" y="2147.31" text-anchor="end" font-size="22.6" textLength="48.02" lengthAdjust="spacingAndGlyphs">2000</text>
<text x="93.15" y="2084.84" text-anchor="end" font-size="22.6" textLength="48.02" lengthAdjust="spacingAndGlyphs">3000</text>
<text x="93.15" y="2022.37" text-anchor="end" font-size="22.6" textLength="48.02" lengthAdjust="spacingAndGlyphs">4000</text>
<text x="93.15" y="1959.90" text-anchor="end" font-size="22.6" textLength="48.02" lengthAdjust="spacingAndGlyphs">5000</text>
<text x="93.15" y="1897.43" text-anchor="end" font-size="22.6" textLength="48.02" lengthAdjust="spacingAndGlyphs">6000</text>
<text x="93.15" y="1834.96" text-anchor="end" font-size="22.6" textLength="48.02" lengthAdjust="spacingAndGlyphs">7000</text>
<text x="382.95" y="2313.30" text-anchor="middle" font-size="22.6">gray scale(dB)</text>
<text transform="translate(32.00 2043.05) rotate(-90)" text-anchor="middle" font-size="22.6">pixel number</text>
<text x="147.00" y="1810.00" font-size="22.5">frame 4 histogram before radiometric adjustment</text>
<text x="111.25" y="1810.00" font-size="25" style='font-family:"Liberation Serif", "Times New Roman", serif'>(g)</text>
<rect x="106.55" y="1835.90" width="249.30" height="83.60" fill="#fff" stroke="#000" stroke-width="2.8"/>
<rect x="114.95" y="1840.20" width="50.80" height="21.50" rx="2.5" fill="#00008f"/>
<text x="170.05" y="1858.80" font-size="22.5">hitogram</text>
<line x1="115.85" x2="164.85" y1="1877.50" y2="1877.50" stroke="#f00" stroke-width="2.7"/>
<text x="170.05" y="1885.00" font-size="22.5">mean value</text>
<line x1="115.85" x2="164.85" y1="1903.80" y2="1903.80" stroke="#0f0" stroke-width="2.7"/>
<text x="170.05" y="1910.90" font-size="22.5">standard deviation</text>
<path d="M869.32 1687.50v-5.5M869.32 1242.55v5.5M963.33 1687.50v-5.5M963.33 1242.55v5.5M1057.35 1687.50v-5.5M1057.35 1242.55v5.5M1151.37 1687.50v-5.5M1151.37 1242.55v5.5M1245.38 1687.50v-5.5M1245.38 1242.55v5.5M775.30 1306.11h5.5M1339.40 1306.11h-5.5M775.30 1369.68h5.5M1339.40 1369.68h-5.5M775.30 1433.24h5.5M1339.40 1433.24h-5.5M775.30 1496.81h5.5M1339.40 1496.81h-5.5M775.30 1560.37h5.5M1339.40 1560.37h-5.5M775.30 1623.94h5.5M1339.40 1623.94h-5.5" stroke="#000" stroke-width="2.1" fill="none"/>
<rect x="775.30" y="1242.55" width="564.10" height="444.95" fill="none" stroke="#000" stroke-width="3.0" stroke-linejoin="round"/>
<path d="M775.3 1688.4L775.3 1685.3H776.3L776.3 1685.3H777.6L777.6 1685.5H778.9L778.9 1685.2H780.2L780.2 1685.4H781.5L781.5 1685.2H782.8L782.8 1685.1H784.1L784.1 1685.0H785.4L785.4 1684.5H786.7L786.7 1684.8H788.0L788.0 1684.7H789.3L789.3 1684.6H790.6L790.6 1685.0H791.9L791.9 1684.6H793.2L793.2 1684.6H794.5L794.5 1684.6H795.8L795.8 1685.0H797.1L797.1 1684.9H798.4L798.4 1684.3H799.7L799.7 1684.3H801.0L801.0 1684.4H802.3L802.3 1684.2H803.6L803.6 1684.3H804.9L804.9 1684.8H806.2L806.2 1684.9H807.5L807.5 1684.8H808.8L808.8 1684.7H810.1L810.1 1684.7H811.4L811.4 1684.4H812.7L812.7 1684.1H814.0L814.0 1683.8H815.3L815.3 1683.6H816.6L816.6 1683.6H817.9L817.9 1683.5H819.2L819.2 1683.4H820.5L820.5 1683.6H821.8L821.8 1683.5H823.1L823.1 1683.1H824.4L824.4 1683.2H825.7L825.7 1683.1H827.0L827.0 1682.6H828.3L828.3 1682.0H829.6L829.6 1682.2H830.9L830.9 1682.5H832.2L832.2 1682.5H833.5L833.5 1681.9H834.8L834.8 1681.5H836.1L836.1 1682.7H837.4L837.4 1681.9H838.7L838.7 1681.4H840.0L840.0 1681.3H841.3L841.3 1681.5H842.6L842.6 1680.6H843.9L843.9 1680.4H845.2L845.2 1680.9H846.5L846.5 1680.9H847.8L847.8 1681.1H849.1L849.1 1680.7H850.4L850.4 1680.4H851.7L851.7 1679.9H853.0L853.0 1679.9H854.3L854.3 1679.9H855.6L855.6 1679.5H856.9L856.9 1679.3H858.2L858.2 1679.6H859.5L859.5 1680.0H860.8L860.8 1679.2H862.1L862.1 1679.7H863.4L863.4 1679.6H864.7L864.7 1678.9H866.0L866.0 1678.1H867.3L867.3 1677.8H868.6L868.6 1678.6H869.9L869.9 1677.2H871.2L871.2 1676.9H872.5L872.5 1677.6H873.8L873.8 1677.6H875.1L875.1 1677.6H876.4L876.4 1677.6H877.7L877.7 1677.9H879.0L879.0 1677.7H880.3L880.3 1676.6H881.6L881.6 1675.5H882.9L882.9 1674.8H884.2L884.2 1676.1H885.5L885.5 1676.5H886.8L886.8 1675.3H888.1L888.1 1674.8H889.4L889.4 1674.3H890.7L890.7 1674.5H892.0L892.0 1674.7H893.3L893.3 1673.9H894.6L894.6 1672.5H895.9L895.9 1672.5H897.2L897.2 1672.6H898.5L898.5 1671.7H899.8L899.8 1672.3H901.1L901.1 1671.6H902.4L902.4 1670.7H903.7L903.7 1671.1H905.0L905.0 1670.6H906.3L906.3 1669.2H907.6L907.6 1668.5H908.9L908.9 1668.1H910.2L910.2 1668.0H911.5L911.5 1667.8H912.8L912.8 1666.1H914.1L914.1 1664.0H915.4L915.4 1664.0H916.7L916.7 1663.1H918.0L918.0 1663.0H919.3L919.3 1661.2H920.6L920.6 1660.4H921.9L921.9 1660.5H923.2L923.2 1661.1H924.5L924.5 1660.6H925.8L925.8 1658.4H927.1L927.1 1659.0H928.4L928.4 1657.9H929.7L929.7 1654.3H931.0L931.0 1653.2H932.3L932.3 1653.5H933.6L933.6 1653.4H934.9L934.9 1652.6H936.2L936.2 1651.0H937.5L937.5 1650.9H938.8L938.8 1651.0H940.1L940.1 1649.2H941.4L941.4 1647.4H942.7L942.7 1647.9H944.0L944.0 1646.4H945.3L945.3 1643.2H946.6L946.6 1640.6H947.9L947.9 1640.5H949.2L949.2 1639.4H950.5L950.5 1637.1H951.8L951.8 1638.6H953.1L953.1 1637.5H954.4L954.4 1634.0H955.7L955.7 1632.0H957.0L957.0 1632.5H958.3L958.3 1633.7H959.6L959.6 1629.4H960.9L960.9 1626.7H962.2L962.2 1625.7H963.5L963.5 1623.2H964.8L964.8 1620.8H966.1L966.1 1621.1H967.4L967.4 1621.7H968.7L968.7 1620.8H970.0L970.0 1617.0H971.3L971.3 1615.2H972.6L972.6 1613.7H973.9L973.9 1611.8H975.2L975.2 1607.5H976.5L976.5 1604.1H977.8L977.8 1602.8H979.1L979.1 1602.1H980.4L980.4 1597.5H981.7L981.7 1596.4H983.0L983.0 1597.0H984.3L984.3 1592.2H985.6L985.6 1591.5H986.9L986.9 1587.5H988.2L988.2 1580.4H989.5L989.5 1577.5H990.8L990.8 1577.1H992.1L992.1 1574.4H993.4L993.4 1570.3H994.7L994.7 1569.1H996.0L996.0 1563.3H997.3L997.3 1559.3H998.6L998.6 1554.9H999.9L999.9 1553.2H1001.2L1001.2 1551.4H1002.5L1002.5 1546.2H1003.8L1003.8 1543.6H1005.1L1005.1 1542.4H1006.4L1006.4 1538.9H1007.7L1007.7 1533.9H1009.0L1009.0 1527.2H1010.3L1010.3 1521.5H1011.6L1011.6 1519.6H1012.9L1012.9 1518.3H1014.2L1014.2 1512.5H1015.5L1015.5 1505.0H1016.8L1016.8 1500.3H1018.1L1018.1 1499.5H1019.4L1019.4 1494.3H1020.7L1020.7 1492.2H1022.0L1022.0 1490.8H1023.3L1023.3 1486.9H1024.6L1024.6 1480.8H1025.9L1025.9 1476.3H1027.2L1027.2 1472.5H1028.5L1028.5 1468.6H1029.8L1029.8 1463.9H1031.1L1031.1 1463.6H1032.4L1032.4 1461.0H1033.7L1033.7 1453.3H1035.0L1035.0 1449.5H1036.3L1036.3 1444.1H1037.6L1037.6 1441.3H1038.9L1038.9 1435.0H1040.2L1040.2 1436.0H1041.5L1041.5 1432.5H1042.8L1042.8 1422.4H1044.1L1044.1 1416.6H1045.4L1045.4 1417.3H1046.7L1046.7 1410.4H1048.0L1048.0 1407.7H1049.3L1049.3 1406.4H1050.6L1050.6 1409.3H1051.9L1051.9 1411.0H1053.2L1053.2 1408.3H1054.5L1054.5 1402.7H1055.8L1055.8 1395.6H1057.1L1057.1 1393.1H1058.4L1058.4 1390.4H1059.7L1059.7 1386.5H1061.0L1061.0 1385.1H1062.3L1062.3 1378.5H1063.6L1063.6 1377.6H1064.9L1064.9 1373.0H1066.2L1066.2 1375.0H1067.5L1067.5 1378.8H1068.8L1068.8 1380.3H1070.1L1070.1 1381.9H1071.4L1071.4 1378.9H1072.7L1072.7 1380.0H1074.0L1074.0 1377.1H1075.3L1075.3 1372.7H1076.6L1076.6 1373.4H1077.9L1077.9 1371.2H1079.2L1079.2 1370.4H1080.5L1080.5 1371.3H1081.8L1081.8 1374.0H1083.1L1083.1 1380.7H1084.4L1084.4 1386.7H1085.7L1085.7 1388.0H1087.0L1087.0 1395.3H1088.3L1088.3 1397.9H1089.6L1089.6 1394.8H1090.9L1090.9 1395.9H1092.2L1092.2 1400.5H1093.5L1093.5 1398.9H1094.8L1094.8 1404.0H1096.1L1096.1 1410.1H1097.4L1097.4 1413.7H1098.7L1098.7 1414.0H1100.0L1100.0 1421.7H1101.3L1101.3 1428.7H1102.6L1102.6 1434.7H1103.9L1103.9 1442.3H1105.2L1105.2 1450.0H1106.5L1106.5 1454.6H1107.8L1107.8 1458.9H1109.1L1109.1 1463.1H1110.4L1110.4 1472.3H1111.7L1111.7 1476.9H1113.0L1113.0 1485.7H1114.3L1114.3 1494.0H1115.6L1115.6 1499.4H1116.9L1116.9 1505.0H1118.2L1118.2 1510.6H1119.5L1119.5 1515.7H1120.8L1120.8 1523.1H1122.1L1122.1 1532.1H1123.4L1123.4 1535.2H1124.7L1124.7 1536.1H1126.0L1126.0 1545.0H1127.3L1127.3 1553.8H1128.6L1128.6 1554.9H1129.9L1129.9 1557.0H1131.2L1131.2 1562.5H1132.5L1132.5 1570.2H1133.8L1133.8 1575.8H1135.1L1135.1 1580.7H1136.4L1136.4 1587.2H1137.7L1137.7 1592.1H1139.0L1139.0 1594.6H1140.3L1140.3 1600.7H1141.6L1141.6 1605.4H1142.9L1142.9 1612.7H1144.2L1144.2 1617.3H1145.5L1145.5 1620.8H1146.8L1146.8 1623.0H1148.1L1148.1 1627.3H1149.4L1149.4 1631.1H1150.7L1150.7 1633.8H1152.0L1152.0 1634.8H1153.3L1153.3 1636.2H1154.6L1154.6 1639.5H1155.9L1155.9 1640.9H1157.2L1157.2 1643.2H1158.5L1158.5 1645.6H1159.8L1159.8 1646.1H1161.1L1161.1 1647.7H1162.4L1162.4 1652.1H1163.7L1163.7 1651.2H1165.0L1165.0 1651.5H1166.3L1166.3 1654.0H1167.6L1167.6 1655.1H1168.9L1168.9 1656.1H1170.2L1170.2 1657.9H1171.5L1171.5 1659.3H1172.8L1172.8 1659.7H1174.1L1174.1 1661.0H1175.4L1175.4 1662.8H1176.7L1176.7 1664.2H1178.0L1178.0 1666.1H1179.3L1179.3 1666.8H1180.6L1180.6 1667.3H1181.9L1181.9 1668.4H1183.2L1183.2 1669.2H1184.5L1184.5 1668.9H1185.8L1185.8 1669.7H1187.1L1187.1 1670.7H1188.4L1188.4 1672.4H1189.7L1189.7 1672.9H1191.0L1191.0 1673.3H1192.3L1192.3 1673.1H1193.6L1193.6 1672.6H1194.9L1194.9 1673.1H1196.2L1196.2 1674.0H1197.5L1197.5 1675.0H1198.8L1198.8 1675.8H1200.1L1200.1 1676.4H1201.4L1201.4 1676.3H1202.7L1202.7 1677.4H1204.0L1204.0 1678.1H1205.3L1205.3 1677.8H1206.6L1206.6 1678.2H1207.9L1207.9 1678.5H1209.2L1209.2 1678.7H1210.5L1210.5 1678.7H1211.8L1211.8 1679.0H1213.1L1213.1 1679.4H1214.4L1214.4 1680.1H1215.7L1215.7 1680.4H1217.0L1217.0 1680.3H1218.3L1218.3 1680.5H1219.6L1219.6 1680.6H1220.9L1220.9 1680.5H1222.2L1222.2 1680.5H1223.5L1223.5 1681.1H1224.8L1224.8 1681.3H1226.1L1226.1 1681.3H1227.4L1227.4 1681.3H1228.7L1228.7 1682.1H1230.0L1230.0 1682.4H1231.3L1231.3 1681.6H1232.6L1232.6 1681.7H1233.9L1233.9 1682.2H1235.2L1235.2 1682.5H1236.5L1236.5 1682.0H1237.8L1237.8 1682.4H1239.1L1239.1 1682.9H1240.4L1240.4 1683.1H1241.7L1241.7 1683.0H1243.0L1243.0 1682.6H1244.3L1244.3 1683.1H1245.6L1245.6 1683.6H1246.9L1246.9 1683.5H1248.2L1248.2 1683.0H1249.5L1249.5 1683.2H1250.8L1250.8 1683.8H1252.1L1252.1 1684.1H1253.4L1253.4 1684.0H1254.7L1254.7 1683.8H1256.0L1256.0 1684.0H1257.3L1257.3 1684.1H1258.6L1258.6 1684.1H1259.9L1259.9 1684.3H1261.2L1261.2 1684.6H1262.5L1262.5 1684.8H1263.8L1263.8 1684.7H1265.1L1265.1 1684.6H1266.4L1266.4 1684.3H1267.7L1267.7 1684.4H1269.0L1269.0 1684.6H1270.3L1270.3 1684.4H1271.6L1271.6 1684.7H1272.9L1272.9 1684.5H1274.2L1274.2 1684.9H1275.5L1275.5 1684.8H1276.8L1276.8 1684.4H1278.1L1278.1 1684.5H1279.4L1279.4 1685.0H1280.7L1280.7 1685.0H1282.0L1282.0 1685.2H1283.3L1283.3 1685.1H1284.6L1284.6 1684.9H1285.9L1285.9 1685.0H1287.2L1287.2 1684.7H1288.5L1288.5 1684.8H1289.8L1289.8 1685.0H1291.1L1291.1 1685.3H1292.4L1292.4 1685.3H1293.7L1293.7 1685.1H1295.0L1295.0 1684.9H1296.3L1296.3 1685.1H1297.6L1297.6 1685.4H1298.9L1298.9 1685.7H1300.2L1300.2 1685.6H1301.5L1301.5 1685.0H1302.8L1302.8 1685.0H1304.1L1304.1 1685.0H1305.4L1305.4 1685.2H1306.7L1306.7 1685.0H1308.0L1308.0 1685.2H1309.3L1309.3 1685.4H1310.6L1310.6 1685.7H1311.9L1311.9 1685.9H1313.2L1313.2 1685.5H1314.5L1314.5 1685.5H1315.8L1315.8 1685.7H1317.1L1317.1 1686.1H1318.4L1318.4 1686.1H1319.7L1319.7 1686.0H1321.0L1321.0 1685.4H1322.3L1322.3 1685.2H1323.6L1323.6 1685.7H1324.9L1324.9 1685.9H1326.2L1326.2 1686.1H1327.5L1327.5 1686.0H1328.8L1328.8 1685.8H1330.1L1330.1 1685.9H1331.4L1331.4 1685.7H1332.7L1332.7 1685.4H1334.0L1334.0 1685.8H1335.3L1335.3 1685.9H1336.6L1336.6 1685.4H1337.9L1337.9 1685.5H1339.2L1339.2 1685.7H1339.4L1339.4 1688.4Z" fill="#00008f"/>
<line x1="996" x2="996" y1="1369.68" y2="1687.50" stroke="#0f0" stroke-width="2.7"/>
<line x1="1118.5" x2="1118.5" y1="1369.68" y2="1687.50" stroke="#0f0" stroke-width="2.7"/>
<line x1="1057.5" x2="1057.5" y1="1369.68" y2="1687.50" stroke="#f00" stroke-width="2.7"/>
<text x="769.70" y="1712.30" text-anchor="middle" font-size="22.6" textLength="36.61" lengthAdjust="spacingAndGlyphs">−70</text>
<text x="863.72" y="1712.30" text-anchor="middle" font-size="22.6" textLength="36.61" lengthAdjust="spacingAndGlyphs">−60</text>
<text x="957.73" y="1712.30" text-anchor="middle" font-size="22.6" textLength="36.61" lengthAdjust="spacingAndGlyphs">−50</text>
<text x="1051.75" y="1712.30" text-anchor="middle" font-size="22.6" textLength="36.61" lengthAdjust="spacingAndGlyphs">−40</text>
<text x="1145.77" y="1712.30" text-anchor="middle" font-size="22.6" textLength="36.61" lengthAdjust="spacingAndGlyphs">−30</text>
<text x="1239.78" y="1712.30" text-anchor="middle" font-size="22.6" textLength="36.61" lengthAdjust="spacingAndGlyphs">−20</text>
<text x="1333.80" y="1712.30" text-anchor="middle" font-size="22.6" textLength="36.61" lengthAdjust="spacingAndGlyphs">−10</text>
<text x="770.00" y="1695.46" text-anchor="end" font-size="22.6" textLength="12.00" lengthAdjust="spacingAndGlyphs">0</text>
<text x="770.00" y="1631.89" text-anchor="end" font-size="22.6" textLength="48.02" lengthAdjust="spacingAndGlyphs">1000</text>
<text x="770.00" y="1568.33" text-anchor="end" font-size="22.6" textLength="48.02" lengthAdjust="spacingAndGlyphs">2000</text>
<text x="770.00" y="1504.76" text-anchor="end" font-size="22.6" textLength="48.02" lengthAdjust="spacingAndGlyphs">3000</text>
<text x="770.00" y="1441.20" text-anchor="end" font-size="22.6" textLength="48.02" lengthAdjust="spacingAndGlyphs">4000</text>
<text x="770.00" y="1377.63" text-anchor="end" font-size="22.6" textLength="48.02" lengthAdjust="spacingAndGlyphs">5000</text>
<text x="770.00" y="1314.07" text-anchor="end" font-size="22.6" textLength="48.02" lengthAdjust="spacingAndGlyphs">6000</text>
<text x="770.00" y="1250.51" text-anchor="end" font-size="22.6" textLength="48.02" lengthAdjust="spacingAndGlyphs">7000</text>
<text x="1060.35" y="1736.50" text-anchor="middle" font-size="22.6">gray scale(dB)</text>
<text transform="translate(708.80 1462.43) rotate(-90)" text-anchor="middle" font-size="22.6">pixel number</text>
<text x="832.20" y="1225.50" font-size="22.5">frame 1 histogram after radiometric adjustment</text>
<text x="799.50" y="1225.50" font-size="25.5" style='font-family:"Liberation Serif", "Times New Roman", serif'>(f)</text>
<rect x="784.20" y="1251.75" width="249.30" height="83.60" fill="#fff" stroke="#000" stroke-width="2.8"/>
<rect x="792.60" y="1256.05" width="50.80" height="21.50" rx="2.5" fill="#00008f"/>
<text x="847.70" y="1274.65" font-size="22.5">hitogram</text>
<line x1="793.50" x2="842.50" y1="1293.35" y2="1293.35" stroke="#f00" stroke-width="2.7"/>
<text x="847.70" y="1300.85" font-size="22.5">mean value</text>
<line x1="793.50" x2="842.50" y1="1319.65" y2="1319.65" stroke="#0f0" stroke-width="2.7"/>
<text x="847.70" y="1326.75" font-size="22.5">standard deviation</text>
<path d="M869.32 2271.20v-5.5M869.32 1826.10v5.5M963.33 2271.20v-5.5M963.33 1826.10v5.5M1057.35 2271.20v-5.5M1057.35 1826.10v5.5M1151.37 2271.20v-5.5M1151.37 1826.10v5.5M1245.38 2271.20v-5.5M1245.38 1826.10v5.5M775.30 1889.69h5.5M1339.40 1889.69h-5.5M775.30 1953.27h5.5M1339.40 1953.27h-5.5M775.30 2016.86h5.5M1339.40 2016.86h-5.5M775.30 2080.44h5.5M1339.40 2080.44h-5.5M775.30 2144.03h5.5M1339.40 2144.03h-5.5M775.30 2207.61h5.5M1339.40 2207.61h-5.5" stroke="#000" stroke-width="2.1" fill="none"/>
<rect x="775.30" y="1826.10" width="564.10" height="445.10" fill="none" stroke="#000" stroke-width="3.0" stroke-linejoin="round"/>
<path d="M775.3 2272.1L775.3 2269.1H776.3L776.3 2269.1H777.6L777.6 2269.3H778.9L778.9 2269.6H780.2L780.2 2269.3H781.5L781.5 2269.4H782.8L782.8 2269.1H784.1L784.1 2269.0H785.4L785.4 2268.7H786.7L786.7 2268.9H788.0L788.0 2269.0H789.3L789.3 2269.0H790.6L790.6 2268.7H791.9L791.9 2268.7H793.2L793.2 2268.5H794.5L794.5 2268.3H795.8L795.8 2268.3H797.1L797.1 2268.7H798.4L798.4 2269.1H799.7L799.7 2268.9H801.0L801.0 2268.1H802.3L802.3 2267.8H803.6L803.6 2267.8H804.9L804.9 2268.3H806.2L806.2 2268.4H807.5L807.5 2267.8H808.8L808.8 2267.6H810.1L810.1 2267.8H811.4L811.4 2268.0H812.7L812.7 2268.2H814.0L814.0 2267.7H815.3L815.3 2267.3H816.6L816.6 2267.7H817.9L817.9 2267.7H819.2L819.2 2267.5H820.5L820.5 2267.6H821.8L821.8 2267.9H823.1L823.1 2267.5H824.4L824.4 2267.2H825.7L825.7 2267.1H827.0L827.0 2266.9H828.3L828.3 2266.8H829.6L829.6 2266.7H830.9L830.9 2265.9H832.2L832.2 2266.0H833.5L833.5 2265.5H834.8L834.8 2265.4H836.1L836.1 2265.8H837.4L837.4 2266.5H838.7L838.7 2266.5H840.0L840.0 2266.4H841.3L841.3 2265.7H842.6L842.6 2265.3H843.9L843.9 2265.5H845.2L845.2 2264.9H846.5L846.5 2264.1H847.8L847.8 2264.3H849.1L849.1 2264.9H850.4L850.4 2264.4H851.7L851.7 2264.9H853.0L853.0 2264.9H854.3L854.3 2264.2H855.6L855.6 2264.0H856.9L856.9 2263.3H858.2L858.2 2262.4H859.5L859.5 2262.9H860.8L860.8 2263.1H862.1L862.1 2262.4H863.4L863.4 2263.6H864.7L864.7 2263.1H866.0L866.0 2261.4H867.3L867.3 2261.0H868.6L868.6 2261.8H869.9L869.9 2262.0H871.2L871.2 2261.3H872.5L872.5 2260.9H873.8L873.8 2260.9H875.1L875.1 2261.2H876.4L876.4 2261.5H877.7L877.7 2261.0H879.0L879.0 2260.5H880.3L880.3 2260.3H881.6L881.6 2260.1H882.9L882.9 2259.9H884.2L884.2 2260.0H885.5L885.5 2258.2H886.8L886.8 2257.5H888.1L888.1 2258.5H889.4L889.4 2258.7H890.7L890.7 2257.4H892.0L892.0 2256.7H893.3L893.3 2256.5H894.6L894.6 2255.9H895.9L895.9 2256.4H897.2L897.2 2256.1H898.5L898.5 2254.5H899.8L899.8 2254.9H901.1L901.1 2255.3H902.4L902.4 2255.4H903.7L903.7 2254.4H905.0L905.0 2253.5H906.3L906.3 2252.5H907.6L907.6 2251.4H908.9L908.9 2251.4H910.2L910.2 2251.4H911.5L911.5 2249.6H912.8L912.8 2248.9H914.1L914.1 2248.5H915.4L915.4 2248.3H916.7L916.7 2248.0H918.0L918.0 2248.6H919.3L919.3 2248.1H920.6L920.6 2246.8H921.9L921.9 2245.6H923.2L923.2 2245.1H924.5L924.5 2245.2H925.8L925.8 2244.3H927.1L927.1 2242.3H928.4L928.4 2240.3H929.7L929.7 2240.4H931.0L931.0 2239.8H932.3L932.3 2238.2H933.6L933.6 2237.4H934.9L934.9 2238.3H936.2L936.2 2237.1H937.5L937.5 2234.0H938.8L938.8 2232.7H940.1L940.1 2231.5H941.4L941.4 2229.9H942.7L942.7 2231.1H944.0L944.0 2229.4H945.3L945.3 2228.0H946.6L946.6 2226.4H947.9L947.9 2225.7H949.2L949.2 2222.7H950.5L950.5 2220.1H951.8L951.8 2219.1H953.1L953.1 2218.3H954.4L954.4 2215.7H955.7L955.7 2214.2H957.0L957.0 2212.6H958.3L958.3 2214.0H959.6L959.6 2214.4H960.9L960.9 2212.8H962.2L962.2 2211.1H963.5L963.5 2208.9H964.8L964.8 2203.4H966.1L966.1 2201.7H967.4L967.4 2200.0H968.7L968.7 2198.4H970.0L970.0 2197.0H971.3L971.3 2196.0H972.6L972.6 2194.4H973.9L973.9 2189.1H975.2L975.2 2187.2H976.5L976.5 2183.3H977.8L977.8 2182.2H979.1L979.1 2183.3H980.4L980.4 2180.4H981.7L981.7 2177.5H983.0L983.0 2175.4H984.3L984.3 2172.8H985.6L985.6 2169.8H986.9L986.9 2168.1H988.2L988.2 2165.6H989.5L989.5 2161.6H990.8L990.8 2158.9H992.1L992.1 2156.8H993.4L993.4 2153.2H994.7L994.7 2151.0H996.0L996.0 2147.4H997.3L997.3 2144.2H998.6L998.6 2141.2H999.9L999.9 2141.2H1001.2L1001.2 2134.5H1002.5L1002.5 2132.6H1003.8L1003.8 2128.9H1005.1L1005.1 2128.3H1006.4L1006.4 2125.2H1007.7L1007.7 2121.0H1009.0L1009.0 2119.3H1010.3L1010.3 2116.6H1011.6L1011.6 2111.3H1012.9L1012.9 2106.1H1014.2L1014.2 2107.4H1015.5L1015.5 2101.2H1016.8L1016.8 2094.0H1018.1L1018.1 2091.6H1019.4L1019.4 2087.5H1020.7L1020.7 2089.5H1022.0L1022.0 2085.6H1023.3L1023.3 2080.5H1024.6L1024.6 2076.5H1025.9L1025.9 2071.2H1027.2L1027.2 2064.9H1028.5L1028.5 2062.7H1029.8L1029.8 2056.2H1031.1L1031.1 2051.1H1032.4L1032.4 2046.1H1033.7L1033.7 2038.2H1035.0L1035.0 2036.8H1036.3L1036.3 2030.8H1037.6L1037.6 2031.3H1038.9L1038.9 2027.0H1040.2L1040.2 2023.9H1041.5L1041.5 2022.5H1042.8L1042.8 2015.5H1044.1L1044.1 2010.2H1045.4L1045.4 2009.1H1046.7L1046.7 2007.6H1048.0L1048.0 2002.5H1049.3L1049.3 2001.0H1050.6L1050.6 2003.4H1051.9L1051.9 2005.5H1053.2L1053.2 2000.7H1054.5L1054.5 1994.8H1055.8L1055.8 1999.0H1057.1L1057.1 1996.7H1058.4L1058.4 1994.5H1059.7L1059.7 1990.6H1061.0L1061.0 1990.3H1062.3L1062.3 1986.4H1063.6L1063.6 1982.4H1064.9L1064.9 1983.7H1066.2L1066.2 1980.7H1067.5L1067.5 1974.6H1068.8L1068.8 1976.9H1070.1L1070.1 1978.8H1071.4L1071.4 1973.7H1072.7L1072.7 1971.3H1074.0L1074.0 1972.2H1075.3L1075.3 1973.4H1076.6L1076.6 1972.0H1077.9L1077.9 1966.2H1079.2L1079.2 1972.5H1080.5L1080.5 1972.7H1081.8L1081.8 1970.2H1083.1L1083.1 1969.9H1084.4L1084.4 1973.7H1085.7L1085.7 1974.9H1087.0L1087.0 1978.6H1088.3L1088.3 1982.4H1089.6L1089.6 1989.3H1090.9L1090.9 1987.2H1092.2L1092.2 1990.1H1093.5L1093.5 1993.9H1094.8L1094.8 2001.3H1096.1L1096.1 2008.6H1097.4L1097.4 2011.9H1098.7L1098.7 2011.8H1100.0L1100.0 2012.5H1101.3L1101.3 2019.5H1102.6L1102.6 2024.1H1103.9L1103.9 2032.3H1105.2L1105.2 2041.1H1106.5L1106.5 2046.0H1107.8L1107.8 2049.0H1109.1L1109.1 2054.8H1110.4L1110.4 2063.6H1111.7L1111.7 2068.2H1113.0L1113.0 2072.8H1114.3L1114.3 2076.9H1115.6L1115.6 2083.2H1116.9L1116.9 2094.7H1118.2L1118.2 2102.4H1119.5L1119.5 2107.9H1120.8L1120.8 2107.8H1122.1L1122.1 2116.4H1123.4L1123.4 2124.8H1124.7L1124.7 2125.8H1126.0L1126.0 2134.0H1127.3L1127.3 2140.7H1128.6L1128.6 2145.5H1129.9L1129.9 2151.6H1131.2L1131.2 2160.6H1132.5L1132.5 2163.5H1133.8L1133.8 2166.1H1135.1L1135.1 2171.5H1136.4L1136.4 2177.7H1137.7L1137.7 2183.9H1139.0L1139.0 2189.7H1140.3L1140.3 2193.9H1141.6L1141.6 2197.9H1142.9L1142.9 2199.1H1144.2L1144.2 2202.6H1145.5L1145.5 2207.2H1146.8L1146.8 2209.3H1148.1L1148.1 2211.1H1149.4L1149.4 2215.9H1150.7L1150.7 2218.9H1152.0L1152.0 2220.4H1153.3L1153.3 2223.8H1154.6L1154.6 2227.5H1155.9L1155.9 2228.6H1157.2L1157.2 2232.2H1158.5L1158.5 2234.0H1159.8L1159.8 2235.1H1161.1L1161.1 2236.4H1162.4L1162.4 2239.5H1163.7L1163.7 2241.1H1165.0L1165.0 2243.9H1166.3L1166.3 2244.8H1167.6L1167.6 2245.6H1168.9L1168.9 2246.2H1170.2L1170.2 2247.2H1171.5L1171.5 2249.1H1172.8L1172.8 2250.9H1174.1L1174.1 2252.0H1175.4L1175.4 2252.8H1176.7L1176.7 2253.1H1178.0L1178.0 2253.7H1179.3L1179.3 2254.3H1180.6L1180.6 2255.6H1181.9L1181.9 2255.9H1183.2L1183.2 2256.5H1184.5L1184.5 2257.3H1185.8L1185.8 2257.8H1187.1L1187.1 2258.5H1188.4L1188.4 2259.3H1189.7L1189.7 2260.1H1191.0L1191.0 2261.3H1192.3L1192.3 2261.5H1193.6L1193.6 2261.2H1194.9L1194.9 2261.0H1196.2L1196.2 2261.4H1197.5L1197.5 2262.2H1198.8L1198.8 2262.8H1200.1L1200.1 2262.7H1201.4L1201.4 2263.2H1202.7L1202.7 2263.7H1204.0L1204.0 2263.2H1205.3L1205.3 2263.2H1206.6L1206.6 2264.1H1207.9L1207.9 2265.0H1209.2L1209.2 2264.7H1210.5L1210.5 2264.9H1211.8L1211.8 2265.4H1213.1L1213.1 2265.1H1214.4L1214.4 2265.1H1215.7L1215.7 2265.2H1217.0L1217.0 2265.8H1218.3L1218.3 2265.9H1219.6L1219.6 2265.8H1220.9L1220.9 2265.8H1222.2L1222.2 2266.5H1223.5L1223.5 2266.3H1224.8L1224.8 2265.9H1226.1L1226.1 2266.6H1227.4L1227.4 2267.0H1228.7L1228.7 2266.5H1230.0L1230.0 2266.8H1231.3L1231.3 2267.6H1232.6L1232.6 2267.6H1233.9L1233.9 2267.8H1235.2L1235.2 2267.5H1236.5L1236.5 2267.1H1237.8L1237.8 2267.4H1239.1L1239.1 2268.1H1240.4L1240.4 2268.1H1241.7L1241.7 2267.4H1243.0L1243.0 2267.7H1244.3L1244.3 2268.0H1245.6L1245.6 2268.2H1246.9L1246.9 2268.7H1248.2L1248.2 2268.8H1249.5L1249.5 2268.9H1250.8L1250.8 2268.5H1252.1L1252.1 2268.6H1253.4L1253.4 2268.3H1254.7L1254.7 2268.2H1256.0L1256.0 2268.5H1257.3L1257.3 2268.9H1258.6L1258.6 2269.0H1259.9L1259.9 2269.0H1261.2L1261.2 2268.7H1262.5L1262.5 2268.5H1263.8L1263.8 2268.5H1265.1L1265.1 2268.4H1266.4L1266.4 2268.7H1267.7L1267.7 2269.2H1269.0L1269.0 2269.5H1270.3L1270.3 2269.5H1271.6L1271.6 2269.5H1272.9L1272.9 2269.1H1274.2L1274.2 2269.0H1275.5L1275.5 2268.7H1276.8L1276.8 2268.8H1278.1L1278.1 2269.1H1279.4L1279.4 2269.5H1280.7L1280.7 2269.5H1282.0L1282.0 2269.2H1283.3L1283.3 2269.3H1284.6L1284.6 2269.6H1285.9L1285.9 2269.5H1287.2L1287.2 2269.3H1288.5L1288.5 2269.2H1289.8L1289.8 2269.3H1291.1L1291.1 2269.5H1292.4L1292.4 2269.5H1293.7L1293.7 2269.4H1295.0L1295.0 2269.6H1296.3L1296.3 2269.9H1297.6L1297.6 2269.8H1298.9L1298.9 2269.4H1300.2L1300.2 2269.3H1301.5L1301.5 2269.4H1302.8L1302.8 2269.8H1304.1L1304.1 2269.8H1305.4L1305.4 2269.3H1306.7L1306.7 2269.5H1308.0L1308.0 2269.8H1309.3L1309.3 2269.7H1310.6L1310.6 2269.6H1311.9L1311.9 2269.7H1313.2L1313.2 2269.7H1314.5L1314.5 2269.5H1315.8L1315.8 2269.8H1317.1L1317.1 2269.9H1318.4L1318.4 2269.8H1319.7L1319.7 2269.8H1321.0L1321.0 2269.9H1322.3L1322.3 2269.9H1323.6L1323.6 2270.0H1324.9L1324.9 2270.0H1326.2L1326.2 2269.9H1327.5L1327.5 2269.7H1328.8L1328.8 2270.0H1330.1L1330.1 2269.9H1331.4L1331.4 2269.8H1332.7L1332.7 2270.0H1334.0L1334.0 2270.0H1335.3L1335.3 2270.2H1336.6L1336.6 2270.2H1337.9L1337.9 2270.2H1339.2L1339.2 2270.2H1339.4L1339.4 2272.1Z" fill="#00008f"/>
<line x1="996" x2="996" y1="1953.27" y2="2271.20" stroke="#0f0" stroke-width="2.7"/>
<line x1="1118.5" x2="1118.5" y1="1953.27" y2="2271.20" stroke="#0f0" stroke-width="2.7"/>
<line x1="1057.5" x2="1057.5" y1="1953.27" y2="2271.20" stroke="#f00" stroke-width="2.7"/>
<text x="769.70" y="2296.00" text-anchor="middle" font-size="22.6" textLength="36.61" lengthAdjust="spacingAndGlyphs">−70</text>
<text x="863.72" y="2296.00" text-anchor="middle" font-size="22.6" textLength="36.61" lengthAdjust="spacingAndGlyphs">−60</text>
<text x="957.73" y="2296.00" text-anchor="middle" font-size="22.6" textLength="36.61" lengthAdjust="spacingAndGlyphs">−50</text>
<text x="1051.75" y="2296.00" text-anchor="middle" font-size="22.6" textLength="36.61" lengthAdjust="spacingAndGlyphs">−40</text>
<text x="1145.77" y="2296.00" text-anchor="middle" font-size="22.6" textLength="36.61" lengthAdjust="spacingAndGlyphs">−30</text>
<text x="1239.78" y="2296.00" text-anchor="middle" font-size="22.6" textLength="36.61" lengthAdjust="spacingAndGlyphs">−20</text>
<text x="1333.80" y="2296.00" text-anchor="middle" font-size="22.6" textLength="36.61" lengthAdjust="spacingAndGlyphs">−10</text>
<text x="770.00" y="2279.16" text-anchor="end" font-size="22.6" textLength="12.00" lengthAdjust="spacingAndGlyphs">0</text>
<text x="770.00" y="2215.57" text-anchor="end" font-size="22.6" textLength="48.02" lengthAdjust="spacingAndGlyphs">1000</text>
<text x="770.00" y="2151.98" text-anchor="end" font-size="22.6" textLength="48.02" lengthAdjust="spacingAndGlyphs">2000</text>
<text x="770.00" y="2088.40" text-anchor="end" font-size="22.6" textLength="48.02" lengthAdjust="spacingAndGlyphs">3000</text>
<text x="770.00" y="2024.81" text-anchor="end" font-size="22.6" textLength="48.02" lengthAdjust="spacingAndGlyphs">4000</text>
<text x="770.00" y="1961.23" text-anchor="end" font-size="22.6" textLength="48.02" lengthAdjust="spacingAndGlyphs">5000</text>
<text x="770.00" y="1897.64" text-anchor="end" font-size="22.6" textLength="48.02" lengthAdjust="spacingAndGlyphs">6000</text>
<text x="770.00" y="1834.06" text-anchor="end" font-size="22.6" textLength="48.02" lengthAdjust="spacingAndGlyphs">7000</text>
<text x="1060.35" y="2320.20" text-anchor="middle" font-size="22.6">gray scale(dB)</text>
<text transform="translate(708.80 2046.05) rotate(-90)" text-anchor="middle" font-size="22.6">pixel number</text>
<text x="833.00" y="1809.50" font-size="22.5">frame 4 histogram after radiometric adjustment</text>
<text x="794.00" y="1809.50" font-size="22" style='font-family:"DejaVu Serif", serif'>(h)</text>
<rect x="784.20" y="1834.90" width="249.30" height="83.60" fill="#fff" stroke="#000" stroke-width="2.8"/>
<rect x="792.60" y="1839.20" width="50.80" height="21.50" rx="2.5" fill="#00008f"/>
<text x="847.70" y="1857.80" font-size="22.5">hitogram</text>
<line x1="793.50" x2="842.50" y1="1876.50" y2="1876.50" stroke="#f00" stroke-width="2.7"/>
<text x="847.70" y="1884.00" font-size="22.5">mean value</text>
<line x1="793.50" x2="842.50" y1="1902.80" y2="1902.80" stroke="#0f0" stroke-width="2.7"/>
<text x="847.70" y="1909.90" font-size="22.5">standard deviation</text>
</svg>
</body></html>
